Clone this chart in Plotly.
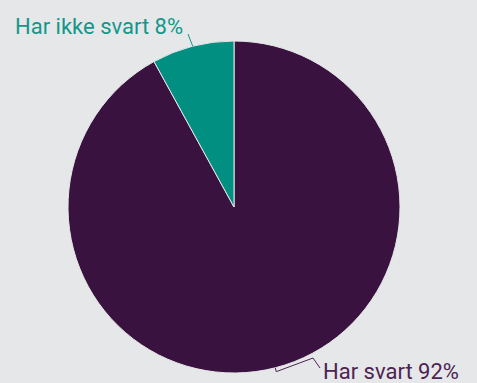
import math
import plotly.graph_objects as go

# Survey response split (drawn clockwise from 12 o'clock)
labels = ["Har svart", "Har ikke svart"]
values = [92, 8]
slice_colors = ["#3a1240", "#008f80"]
label_colors = ["#4c2452", "#13978a"]

W, H = 477, 383
cx, cy, R = 234, 207, 166  # pie centre and radius in pixels

fig = go.Figure(go.Pie(
    labels=labels,
    values=values,
    sort=False,
    direction="clockwise",
    rotation=0,
    marker=dict(colors=slice_colors, line=dict(color="#e6e7e9", width=1)),
    textinfo="none",
    hoverinfo="label+percent",
    showlegend=False,
    domain=dict(x=[(cx - R) / W, (cx + R) / W],
                y=[1 - (cy + R) / H, 1 - (cy - R) / H]),
))


def px(x, y):
    return x / W, 1 - y / H


def rim_point(frac_mid, r):
    # clockwise on screen from 12 o'clock
    ang = math.radians(90 - 360 * frac_mid)
    return cx + r * math.cos(ang), cy - r * math.sin(ang)


total = sum(values)
mids = []
acc = 0
for v in values:
    mids.append((acc + v / 2) / total)
    acc += v

shapes = []
annotations = []
font_family = "Roboto"
font_size = 22

# leader for large slice: zig-zag from rim down to the label
x0, y0 = rim_point(mids[0], R)
xa, ya = rim_point(mids[0], R + 4)
pts = [(x0, y0), (xa, ya), (313, 358), (320, 368)]
path = "M " + " L ".join("{} {}".format(*px(a, b)) for a, b in pts)
shapes.append(dict(type="path", xref="paper", yref="paper", path=path,
                   line=dict(color=label_colors[0], width=1)))
annotations.append(dict(x=px(321, 371)[0], y=px(321, 371)[1], xref="paper", yref="paper",
                        xanchor="left", yanchor="middle", showarrow=False,
                        text=f"{labels[0]} {values[0]}%",
                        font=dict(family=font_family, size=font_size, color=label_colors[0])))

# leader for small slice: from rim up to the label
x0, y0 = rim_point(mids[1], R)
x1, y1 = 188, 34
shapes.append(dict(type="path", xref="paper", yref="paper",
                   path="M {} {} L {} {}".format(*px(x0, y0), *px(x1, y1)),
                   line=dict(color=label_colors[1], width=1)))
annotations.append(dict(x=px(13, 26.5)[0], y=px(13, 26.5)[1], xref="paper", yref="paper",
                        xanchor="left", yanchor="middle", showarrow=False,
                        text=f"{labels[1]} {values[1]}%",
                        font=dict(family=font_family, size=font_size, color=label_colors[1])))

fig.update_layout(
    width=W, height=H,
    margin=dict(l=0, r=0, t=0, b=0),
    paper_bgcolor="#e6e7e9",
    plot_bgcolor="#e6e7e9",
    shapes=shapes,
    annotations=annotations,
)

fig.write_html("out.html")
